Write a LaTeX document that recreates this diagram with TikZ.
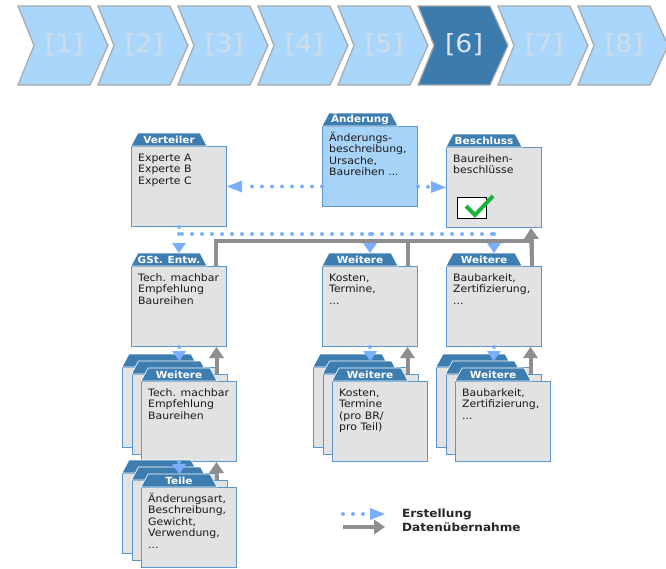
\documentclass[tikz,border=0pt]{standalone}
\usepackage{fontspec}
\setmainfont[FakeStretch=1.07]{DejaVu Sans}
\usetikzlibrary{arrows.meta}
\definecolor{chevhell}{HTML}{AAD6FB}
\definecolor{chevdunkel}{HTML}{3B7BAE}
\definecolor{chevrand}{HTML}{A8A8A8}
\definecolor{chevschrift}{HTML}{CFDDE8}
\definecolor{chevsechs}{HTML}{DDE6EE}
\definecolor{reiterblau}{HTML}{3D7DB0}
\definecolor{randblau}{HTML}{5B95C9}
\definecolor{kastengrau}{HTML}{E2E2E2}
\definecolor{aendblau}{HTML}{A8D3F9}
\definecolor{punktblau}{HTML}{7AAFFF}
\definecolor{datgrau}{HTML}{8E8E8E}
\definecolor{hakengruen}{HTML}{1DB33A}
\tikzset{
  kasten/.style={draw=randblau, fill=kastengrau, line width=1pt, anchor=north west,
    minimum width=95pt, minimum height=80pt, inner sep=0pt},
  reiter/.style={fill=reiterblau, draw=white, line width=0.6pt},
  reitertext/.style={text=white, font=\bfseries\fontsize{9.8}{11}\selectfont, inner sep=0pt},
  inhalt/.style={anchor=north west, align=left, inner sep=0pt,
    font=\fontsize{10.2}{11.6}\selectfont, text=black!90},
  erstlinie/.style={draw=punktblau, line width=4pt, line cap=round, dash pattern=on 0pt off 10pt},
  erst/.style={erstlinie, -{Triangle[length=10pt,width=14pt,line width=0pt]}},
  erstlang/.style={erstlinie, -{Triangle[length=15pt,width=12pt,line width=0pt]}},
  datlinie/.style={draw=datgrau, line width=4pt},
  daten/.style={datlinie, -{Triangle[length=11pt,width=15pt,line width=0pt]}},
  chev/.style={fill=chevhell, draw=chevrand, line width=1.2pt},
  chevtext/.style={font=\fontsize{25}{28}\selectfont, text=chevschrift, inner sep=0pt},
  ankreuz/.style={draw=black, fill=white, line width=1pt, anchor=north west,
    minimum width=29pt, minimum height=21pt, inner sep=0pt},
  haken/.style={draw=hakengruen, line width=4pt},
  legtext/.style={anchor=west, inner sep=0pt, font=\bfseries\fontsize{11.3}{13}\selectfont, text=black!85}
}
% Kasten mit Reiter: [Stil] Name, Ecke oben links, Titel, Inhalt
\newcommand{\kasten}[5][]{%
  \node[kasten,#1] (#2) at (#3) {};
  \path[reiter] (#2.north west) -- ++(7,-13) -- ++(62,0) -- ++(7,13) -- cycle;
  \node[reitertext] (#2-titel) at ([shift={(38,-6.5)}]#2.north west) {#4};
  \node[inhalt] (#2-text) at ([shift={(7,5.5)}]#2.north west) {\vphantom{Ä}#5};
}
% Stapel aus drei Kaesten
\newcommand{\stapel}[4]{%
  \kasten{#1c}{[shift={(-19,-14)}]#2}{}{}
  \kasten{#1b}{[shift={(-9.5,-7)}]#2}{}{}
  \kasten{#1}{#2}{#3}{#4}
}
\begin{document}
\begin{tikzpicture}[x=1pt, y=-1pt]
  \useasboundingbox (0,0) rectangle (666,568);
  % Prozesskette
  \foreach \i in {1,2,3,4,5,7,8}{
    \pgfmathsetmacro\xa{18+80*(\i-1)}
    \draw[chev] (\xa,6) -- ++(72,0) -- ++(18,39.5) -- ++(-18,39.5) -- ++(-72,0) -- ++(16,-39.5) -- cycle;
    \node[chevtext] (chev\i) at (\xa+46,44.5) {[\i]};
  }
  \draw[chev, fill=chevdunkel] (418,6) -- ++(72,0) -- ++(18,39.5) -- ++(-18,39.5) -- ++(-72,0) -- ++(16,-39.5) -- cycle;
  \node[chevtext, text=chevsechs] (chev6) at (464,44.5) {[6]};

  % obere Reihe
  \kasten{ver}{131,146}{Verteiler}{Experte A\\Experte B\\Experte C}
  \kasten[fill=aendblau]{aen}{322,126}{Änderung}{Änderungs-\\beschreibung,\\Ursache,\\Baureihen ...}
  \kasten{bes}{446,147}{Beschluss}{Baureihen-\\beschlüsse}
  \node[ankreuz] (bes-box) at (457,197) {};
  \draw[haken] ([shift={(9,9)}]bes-box.north west) -- ++(9,9) -- ++(18,-19);

  % mittlere Reihe
  \kasten{gst}{131,266}{GSt. Entw.}{Tech. machbar\\Empfehlung\\Baureihen}
  \kasten{mwt}{322,266}{Weitere}{Kosten,\\Termine,\\...}
  \kasten{rwt}{446,266}{Weitere}{Baubarkeit,\\Zertifizierung,\\...}

  % Stapel
  \stapel{gtw}{141,381}{Weitere}{Tech. machbar\\Empfehlung\\Baureihen}
  \stapel{mst}{332,381}{Weitere}{Kosten,\\Termine\\(pro BR/\\pro Teil)}
  \stapel{rst}{455,381}{Weitere}{Baubarkeit,\\Zertifizierung,\\...}
  \stapel{teile}{141,487}{Teile}{Änderungsart,\\Beschreibung,\\Gewicht,\\Verwendung,\\...}

  % Erstellung
  \draw[erstlang] ([yshift=-20pt]aen.west) -- (ver.east);
  \draw[erstlang] ([yshift=-20pt]aen.east) -- (bes.west);
  \coordinate (verteil) at ([yshift=-7pt]ver.south);
  \draw[erstlinie] (ver.south) -- (verteil) -- (verteil -| rwt.north);
  \draw[erst] (verteil) -- ([yshift=13pt]gst.north);
  \draw[erst] (verteil -| mwt.north) -- ([yshift=13pt]mwt.north);
  \draw[erst] (verteil -| rwt.north) -- ([yshift=13pt]rwt.north);
  \draw[erst] (gst.south) -- ([yshift=13pt]gtwb.north);
  \draw[erst] (mwt.south) -- ([yshift=13pt]mstb.north);
  \draw[erst] (rwt.south) -- ([yshift=13pt]rstb.north);
  \draw[erst] ([xshift=-10pt]gtw.south) -- ([yshift=6pt]teileb.north);

  % Datenuebernahme
  \draw[datlinie] ([xshift=-11pt]gst.north east) -- ++(0,-25) coordinate (g1) -| ([xshift=-10pt]rwt.north east);
  \draw[datlinie] ([xshift=-10pt]mwt.north east) -- ([xshift=-10pt]mwt.north east |- g1);
  \draw[daten] ([xshift=-10pt]rwt.north east) -- ([xshift=-11pt]bes.south east);
  \path ([xshift=-11pt]gtwb.north east) coordinate (d1);
  \draw[daten] (d1) -- (d1 |- gst.south);
  \path ([xshift=-11pt]mstb.north east) coordinate (d2);
  \draw[daten] (d2) -- (d2 |- mwt.south);
  \path ([xshift=-11pt]rstb.north east) coordinate (d3);
  \draw[daten] (d3) -- (d3 |- rwt.south);
  \path ([xshift=-11pt]teileb.north east) coordinate (d4);
  \draw[daten] (d4) -- (d4 |- gtw.south);

  % Legende
  \coordinate (leg1a) at (343,514);
  \coordinate (leg1b) at (385,514);
  \coordinate (leg2a) at (343,527);
  \coordinate (leg2b) at (385,527);
  \draw[erstlang] (leg1a) -- (leg1b);
  \draw[daten] (leg2a) -- (leg2b);
  \node[legtext] (leg1) at (402,514) {Erstellung};
  \node[legtext] (leg2) at (402,527) {Datenübernahme};
\end{tikzpicture}
\end{document}
